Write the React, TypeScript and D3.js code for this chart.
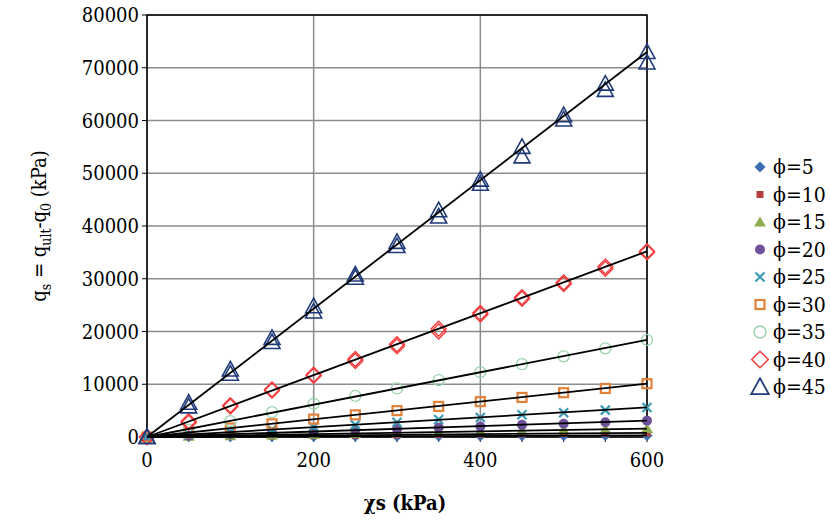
import * as d3 from 'd3';

const xs = [0, 50, 100, 150, 200, 250, 300, 350, 400, 450, 500, 550, 600];
const phiLabels = ['5', '10', '15', '20', '25', '30', '35', '40', '45'];
const lineEnds = [300, 800, 1600, 3100, 5600, 10100, 18400, 35200, 73000];

const phi5 = [0, 25, 50, 75, 100, 125, 150, 175, 200, 225, 250, 275, 300];
const phi10 = [0, 70, 130, 200, 270, 330, 400, 470, 530, 600, 670, 730, 800];
const phi15 = [0, 130, 260, 400, 530, 660, 800, 930, 1060, 1200, 1330, 1460, 1600];
const phi20 = [0, 250, 500, 750, 1000, 1300, 1500, 1800, 2000, 2300, 2500, 2800, 3100];
const phi25 = [0, 450, 900, 1400, 1900, 2300, 2800, 3300, 3700, 4200, 4600, 5100, 5600];
const phi30 = [0, 800, 1700, 2500, 3400, 4200, 5000, 5800, 6700, 7500, 8400, 9200, 10100];
const phi35 = [0, 1400, 3000, 4700, 6300, 7800, 9200, 10800, 12300, 13800, 15300, 16800, 18400];
const phi40a = [0, 3000, 6000, 9000, 11800, 14800, 17600, 20500, 23500, 26500, 29300, 32300, 35200];
const phi40b = [0, 2700, 5800, 8800, 11600, 14400, 17200, 20000, 23200, 26200, 29000, 31900, 35000];
const phi45a = [0, 6500, 12800, 18800, 24800, 30800, 37000, 43000, 48800, 55000, 61000, 67000, 73000];
const phi45b = [0, 5800, 12000, 18000, 23800, 30200, 36200, 41800, 48000, 53200, 60200, 65800, 71000];

const series = [[phi5], [phi10], [phi15], [phi20], [phi25], [phi30], [phi35], [phi40a, phi40b], [phi45a, phi45b]];
const colors = ['#3A6EB0', '#B5403D', '#8FB04E', '#6E5198', '#3C9BB5', '#E0823A', '#9AD3AE', '#F23C3C', '#1F3A78'];
const shapes = ['diamond', 'square', 'triangle', 'circle', 'x', 'osquare', 'ocircle', 'odiamond', 'otriangle'];

const W = 830, H = 526;
const m = { left: 147, right: 647, top: 15, bottom: 437 };
const x = d3.scaleLinear().domain([0, 600]).range([m.left, m.right]);
const y = d3.scaleLinear().domain([0, 80000]).range([m.bottom, m.top]);
const font = "'DejaVu Serif Condensed', 'DejaVu Serif', serif";

function Marker({ shape, color, cx, cy, s = 1 }: { shape: string; color: string; cx: number; cy: number; s?: number }) {
  const t = `translate(${cx},${cy}) scale(${s})`;
  switch (shape) {
    case 'diamond':
      return <path transform={t} d="M0,-5.5L5.5,0L0,5.5L-5.5,0Z" fill={color} />;
    case 'square':
      return <rect transform={t} x={-3.5} y={-3.5} width={7} height={7} fill={color} />;
    case 'triangle':
      return <path transform={t} d="M0,-5.5L6,4.5L-6,4.5Z" fill={color} />;
    case 'circle':
      return <circle transform={t} r={5} fill={color} />;
    case 'x':
      return <path transform={t} d="M-4.5,-4.5L4.5,4.5M4.5,-4.5L-4.5,4.5" stroke={color} strokeWidth={2.2} />;
    case 'osquare':
      return <rect transform={t} x={-4.5} y={-4.5} width={9} height={9} fill="none" stroke={color} strokeWidth={2.2} />;
    case 'ocircle':
      return <circle transform={t} r={5.5} fill="none" stroke={color} strokeWidth={1.3} />;
    case 'odiamond':
      return <path transform={t} d="M0,-7.5L7.5,0L0,7.5L-7.5,0Z" fill="none" stroke={color} strokeWidth={1.4} />;
    default:
      return <path transform={t} d="M0,-8L8,6.5L-8,6.5Z" fill="none" stroke={color} strokeWidth={1.6} />;
  }
}

export default function App() {
  const yTicks = d3.range(0, 80001, 10000);
  const xTicks = [0, 200, 400, 600];
  return (
    <svg width={W} height={H} style={{ position: 'absolute', left: 0, top: 0 }} fontFamily={font}>
      <rect width={W} height={H} fill="#fff" />
      {yTicks.map((t) => (
        <line key={'gy' + t} x1={m.left} x2={m.right} y1={y(t)} y2={y(t)} stroke="#8c8c8c" strokeWidth={1.5} />
      ))}
      {xTicks.map((t) => (
        <line key={'gx' + t} x1={x(t)} x2={x(t)} y1={m.top} y2={m.bottom} stroke="#8c8c8c" strokeWidth={1.5} />
      ))}
      <rect x={m.left} y={m.top} width={m.right - m.left} height={m.bottom - m.top} fill="none" stroke="#000" strokeWidth={1.5} />
      {yTicks.map((t) => (
        <g key={'ty' + t}>
          <line x1={m.left - 5} x2={m.left} y1={y(t)} y2={y(t)} stroke="#000" />
          <text x={m.left - 8} y={y(t)} dy="0.35em" textAnchor="end" fontSize={20}>{t}</text>
        </g>
      ))}
      {d3.range(0, 601, 50).map((t) => (
        <line key={'tx' + t} x1={x(t)} x2={x(t)} y1={m.bottom} y2={m.bottom + 5} stroke="#000" />
      ))}
      {xTicks.map((t) => (
        <text key={'lx' + t} x={x(t)} y={m.bottom + 30} textAnchor="middle" fontSize={20}>{t}</text>
      ))}
      {series.map((sets, i) =>
        sets.map((vals, j) =>
          vals.map((v, k) => (
            <Marker key={`${i}-${j}-${k}`} shape={shapes[i]} color={colors[i]} cx={x(xs[k])} cy={y(v)} />
          ))
        )
      )}
      {lineEnds.map((v, i) => (
        <line key={'ln' + i} x1={x(0)} y1={y(0)} x2={x(600)} y2={y(v)} stroke="#000" strokeWidth={1.8} />
      ))}
      {phiLabels.map((p, i) => (
        <g key={'lg' + p} transform={`translate(0,${167 + i * 27.5})`}>
          <Marker shape={shapes[i]} color={colors[i]} cx={760} cy={0} s={i >= 6 ? 1.1 : 1} />
          <text x={773} y={0} dy="0.35em" fontSize={21}>ϕ={p}</text>
        </g>
      ))}
      <text x={405} y={510} textAnchor="middle" fontSize={20} fontWeight="bold">χs (kPa)</text>
      <text transform={`translate(46,${226}) rotate(-90)`} textAnchor="middle" fontSize={20}>
        q<tspan fontSize={14} dy={5}>s</tspan>
        <tspan dy={-5}> = q</tspan><tspan fontSize={14} dy={5}>ult</tspan>
        <tspan dy={-5}>-q</tspan><tspan fontSize={14} dy={5}>0</tspan>
        <tspan dy={-5}>  (kPa)</tspan>
      </text>
    </svg>
  );
}
